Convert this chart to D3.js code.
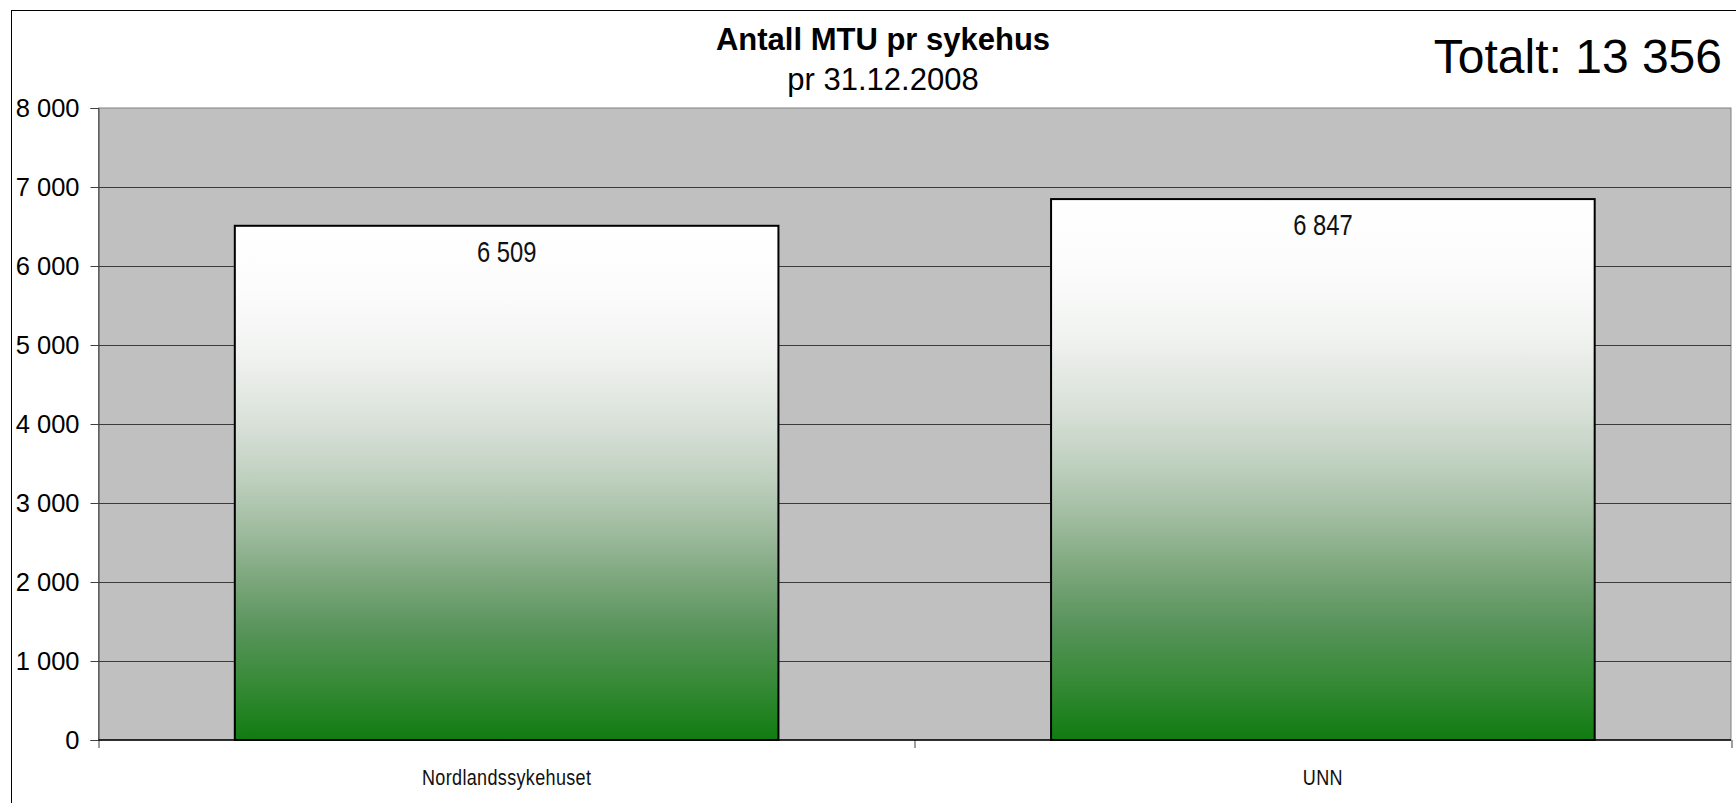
<!DOCTYPE html>
<html>
<head>
<meta charset="utf-8">
<script src="https://cdn.jsdelivr.net/npm/d3@7"></script>
<style>
  body { margin: 0; background: #fff; }
  svg { display: block; font-family: "Liberation Sans", Arial, sans-serif; }
</style>
</head>
<body>
<script>
var categories = ["Nordlandssykehuset", "UNN"];
var values = [6509, 6847];
var yTicks = [0, 1000, 2000, 3000, 4000, 5000, 6000, 7000, 8000];
var title = "Antall MTU pr sykehus";
var subtitle = "pr 31.12.2008";
var totalLabel = "Totalt: ";

var W = 1736,
  H = 803,
  margin = { top: 108, right: 5, bottom: 63, left: 98.5 },
  width = W - margin.left - margin.right,
  height = H - margin.top - margin.bottom,
  narrow = 0.82; // horizontal squeeze to fake Arial Narrow

var locale = d3.formatLocale({ decimal: ",", thousands: "\u00a0", grouping: [3], currency: ["", " kr"] });
var fmt = locale.format(",d");

var svg = d3.select("body").append("svg").attr("width", W).attr("height", H);

// bar fill: white on top fading to green at the bottom
var grad = svg.append("defs").append("linearGradient")
  .attr("id", "barFill")
  .attr("x1", 0).attr("y1", 0).attr("x2", 0).attr("y2", 1);
[
  [0, "#ffffff"], [0.12, "#fcfcfc"], [0.25, "#f1f3f1"], [0.39, "#d8e0d8"], [0.49, "#bfd0bf"],
  [0.59, "#a0bca0"], [0.69, "#7ba67b"], [0.79, "#57935a"], [0.89, "#378a37"], [1, "#107c10"]
].forEach(function (s) {
  grad.append("stop").attr("offset", s[0]).attr("stop-color", s[1]);
});

// outer chart border
svg.append("rect")
  .attr("x", 11.5).attr("y", 10.5)
  .attr("width", 1800).attr("height", 900)
  .attr("fill", "none").attr("stroke", "#000");

var x = d3.scaleBand().domain(categories).range([0, width]).paddingInner(0.334).paddingOuter(0.167);
var y = d3.scaleLinear().domain([0, 8000]).range([height, 0]);

var g = svg.append("g").attr("transform", "translate(" + margin.left + "," + margin.top + ")");

g.append("rect")
  .attr("width", width).attr("height", height)
  .attr("fill", "#c0c0c0")
  .attr("stroke", "#808080");

// gridlines
g.selectAll(".grid")
  .data(yTicks.slice(1, -1))
  .enter().append("line")
  .attr("x1", 0).attr("x2", width)
  .attr("y1", function (d) { return Math.round(y(d)) + 0.5; })
  .attr("y2", function (d) { return Math.round(y(d)) + 0.5; })
  .attr("stroke", "#3a3a3a");

var yAxis = d3.axisLeft(y).tickValues(yTicks).tickSize(8).tickPadding(11).tickFormat(fmt);
var yg = g.append("g").call(yAxis);
yg.select(".domain").attr("stroke", "#404040");
yg.selectAll(".tick line").attr("stroke", "#404040");
yg.selectAll("text").attr("font-size", "25.5px").attr("fill", "#000").style("font-family", "Liberation Sans, Arial, sans-serif");

// category axis: ticks at the band boundaries
var bounds = [0].concat(categories.map(function (c) { return x(c) + x.bandwidth() + x.step() * x.paddingInner() / 2; }));
g.selectAll(".ctick")
  .data(bounds)
  .enter().append("line")
  .attr("x1", function (d) { return Math.round(d) + 0.5; })
  .attr("x2", function (d) { return Math.round(d) + 0.5; })
  .attr("y1", height).attr("y2", height + 8)
  .attr("stroke", "#404040");

g.selectAll(".bar")
  .data(values)
  .enter().append("rect")
  .attr("x", function (d, i) { return x(categories[i]); })
  .attr("y", function (d) { return y(d); })
  .attr("width", x.bandwidth())
  .attr("height", function (d) { return height - y(d); })
  .attr("fill", "url(#barFill)")
  .attr("stroke", "#000")
  .attr("stroke-width", 2);

g.append("line")
  .attr("x1", 0).attr("x2", width)
  .attr("y1", height).attr("y2", height)
  .attr("stroke", "#000").attr("stroke-width", 1.5);

g.selectAll(".val")
  .data(values)
  .enter().append("text")
  .attr("transform", function (d, i) {
    return "translate(" + (x(categories[i]) + x.bandwidth() / 2) + "," + (y(d) + 36) + ") scale(" + narrow + ",1)";
  })
  .attr("text-anchor", "middle")
  .attr("font-size", "29px")
  .attr("fill", "#111")
  .text(function (d) { return fmt(d); });

g.selectAll(".cat")
  .data(categories)
  .enter().append("text")
  .attr("transform", function (d) {
    return "translate(" + (x(d) + x.bandwidth() / 2) + "," + (height + 45) + ") scale(" + narrow + ",1)";
  })
  .attr("text-anchor", "middle")
  .attr("font-size", "22px")
  .attr("letter-spacing", "0.4px")
  .attr("fill", "#111")
  .text(function (d) { return d; });

svg.append("text")
  .attr("x", 883).attr("y", 50)
  .attr("text-anchor", "middle")
  .attr("font-size", "31px").attr("font-weight", "bold")
  .text(title);

svg.append("text")
  .attr("x", 883).attr("y", 90)
  .attr("text-anchor", "middle")
  .attr("font-size", "31px")
  .text(subtitle);

svg.append("text")
  .attr("x", 1722).attr("y", 73)
  .attr("text-anchor", "end")
  .attr("font-size", "48px")
  .text(totalLabel + fmt(d3.sum(values)));
</script>
</body>
</html>
